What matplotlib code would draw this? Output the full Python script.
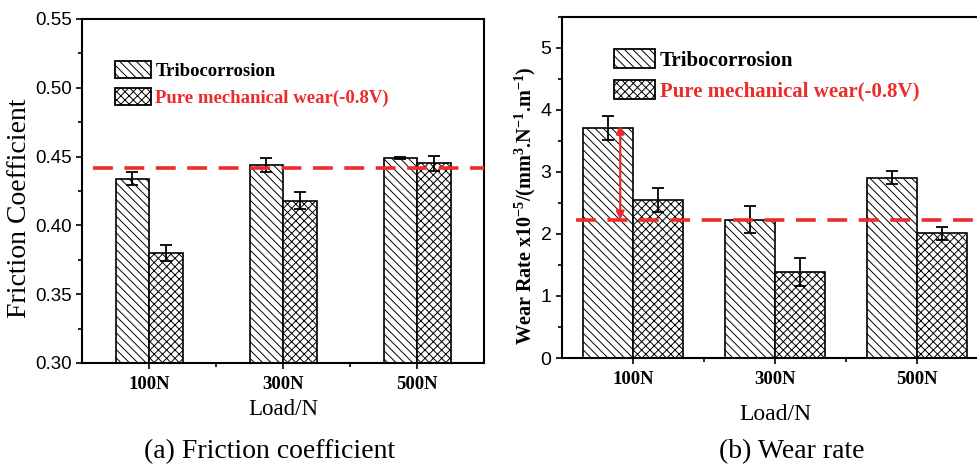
import matplotlib
matplotlib.use('Agg')
import matplotlib.pyplot as plt
from matplotlib.ticker import MultipleLocator, FixedLocator, FormatStrFormatter
from matplotlib.patches import Patch

# ---------------- data ----------------
loads = ['100N', '300N', '500N']
series_names = ['Tribocorrosion', 'Pure mechanical wear(-0.8V)']

fric_tribo = [0.434, 0.444, 0.449]
fric_tribo_err = [0.005, 0.005, 0.0005]
fric_pure = [0.380, 0.418, 0.445]
fric_pure_err = [0.006, 0.006, 0.0055]
fric_ref = 0.442

wear_tribo = [3.71, 2.23, 2.91]
wear_tribo_err = [0.20, 0.22, 0.10]
wear_pure = [2.55, 1.39, 2.01]
wear_pure_err = [0.19, 0.23, 0.11]
wear_ref = 2.23
wear_arrow_top = 3.75

# ---------------- style ----------------
plt.rcParams['hatch.linewidth'] = 0.7
plt.rcParams['mathtext.fontset'] = 'custom'
plt.rcParams['mathtext.rm'] = 'Liberation Serif:bold'
plt.rcParams['mathtext.bf'] = 'Liberation Serif:bold'
plt.rcParams['mathtext.it'] = 'Liberation Serif:bold:italic'
plt.rcParams['mathtext.default'] = 'rm'

RED = '#ee2b2b'
SERIF = 'Liberation Serif'
SANS = 'Liberation Sans'
HATCH_T = '\\\\\\\\'
HATCH_P = 'xxxx'

fig = plt.figure(figsize=(9.77, 4.65), dpi=100)

def style_axes(ax, ymin, ymax, major, minor, tick_fs):
    ax.set_ylim(ymin, ymax)
    ax.set_xlim(0.5, 3.5)
    ax.yaxis.set_major_locator(MultipleLocator(major))
    ax.yaxis.set_minor_locator(MultipleLocator(minor))
    ax.xaxis.set_major_locator(FixedLocator([1, 2, 3]))
    ax.xaxis.set_minor_locator(FixedLocator([1.5, 2.5]))
    ax.tick_params(axis='both', which='major', direction='out', length=4, width=1.2,
                   top=False, right=False)
    ax.tick_params(axis='both', which='minor', direction='out', length=3, width=1.2,
                   top=False, right=False)
    ax.tick_params(axis='x', which='major', pad=5)
    for s in ax.spines.values():
        s.set_linewidth(1.5)
    for lab in ax.get_yticklabels():
        lab.set_fontfamily(SANS)
        lab.set_fontsize(tick_fs)
    ax.set_xticks([1, 2, 3])
    ax.set_xticklabels(loads, fontfamily=SERIF, fontweight='bold', fontsize=13.5)


def draw_bars(ax, t, te, p, pe, w):
    xs = [1, 2, 3]
    xt = [x - w / 2 for x in xs]
    xp = [x + w / 2 for x in xs]
    ax.bar(xt, t, width=w, facecolor='white', edgecolor='black', linewidth=1.2,
           hatch=HATCH_T, zorder=2)
    ax.bar(xp, p, width=w, facecolor='white', edgecolor='black', linewidth=1.2,
           hatch=HATCH_P, zorder=2)
    ax.errorbar(xt, t, yerr=te, fmt='none', ecolor='black', elinewidth=1.3,
                capsize=4, capthick=1.3, zorder=3)
    ax.errorbar(xp, p, yerr=pe, fmt='none', ecolor='black', elinewidth=1.3,
                capsize=4, capthick=1.3, zorder=3)


def add_legend(ax, anchor, fs, hl, hh, ls):
    handles = [Patch(facecolor='white', edgecolor='black', hatch=HATCH_T, linewidth=1.3),
               Patch(facecolor='white', edgecolor='black', hatch=HATCH_P, linewidth=1.3)]
    leg = ax.legend(handles, series_names, loc='upper left', bbox_to_anchor=anchor,
                    frameon=False, borderpad=0, borderaxespad=0,
                    handlelength=hl, handleheight=hh, handletextpad=0.25,
                    labelspacing=ls,
                    prop={'family': SERIF, 'weight': 'bold', 'size': fs})
    leg.get_texts()[1].set_color(RED)
    return leg


# ---------------- (a) friction ----------------
ax1 = fig.add_axes([82 / 977, 102 / 465, 402 / 977, 344 / 465])
draw_bars(ax1, fric_tribo, fric_tribo_err, fric_pure, fric_pure_err, 0.25)
ax1.plot([0.58, 3.5], [fric_ref, fric_ref], color=RED, lw=2.6,
         linestyle=(0, (5.5, 3.2)), zorder=4, clip_on=False)
style_axes(ax1, 0.30, 0.55, 0.05, 0.025, 13.5)
ax1.yaxis.set_major_formatter(FormatStrFormatter('%.2f'))
ax1.set_ylabel('Friction Coefficient', fontfamily=SERIF, fontsize=20)
ax1.yaxis.set_label_coords(-0.125, 0.45)
ax1.set_xlabel('Load/N', fontfamily=SERIF, fontsize=16.5, labelpad=5)
add_legend(ax1, (0.082, 0.878), 13.5, 1.9, 1.0, 0.45)

# ---------------- (b) wear rate ----------------
ax2 = fig.add_axes([562 / 977, 107 / 465, 426 / 977, 341 / 465])
draw_bars(ax2, wear_tribo, wear_tribo_err, wear_pure, wear_pure_err, 0.35)
ax2.plot([0.6, 3.5], [wear_ref, wear_ref], color=RED, lw=2.6,
         linestyle=(0, (5.5, 3.2)), zorder=4)
ax2.annotate('', xy=(0.91, wear_arrow_top), xytext=(0.91, wear_ref),
             arrowprops=dict(arrowstyle='<|-|>', color=RED, lw=1.6,
                             mutation_scale=12, shrinkA=0, shrinkB=0), zorder=5)
style_axes(ax2, 0, 5.5, 1, 0.5, 14)
ax2.set_ylabel(r'Wear Rate x10$^{-5}$/(mm$^{3}$.N$^{-1}$.m$^{-1}$)',
               fontfamily=SERIF, fontweight='bold', fontsize=14.5)
ax2.yaxis.set_label_coords(-0.056, 0.445)
ax2.set_xlabel('Load/N', fontfamily=SERIF, fontsize=17, labelpad=12)
add_legend(ax2, (0.122, 0.905), 15, 1.95, 1.0, 0.45)

# ---------------- captions ----------------
fig.text(270 / 977, 1 - 452 / 465, '(a) Friction coefficient', fontfamily=SERIF,
         fontsize=20, ha='center', va='center')
fig.text(792 / 977, 1 - 452 / 465, '(b) Wear rate', fontfamily=SERIF,
         fontsize=20, ha='center', va='center')

fig.savefig('out.png', dpi=100)
